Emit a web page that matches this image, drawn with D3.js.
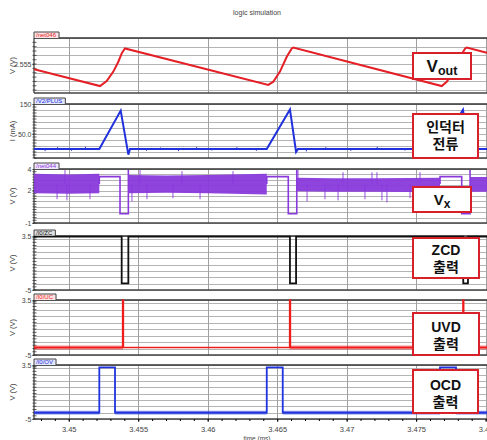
<!DOCTYPE html>
<html>
<head>
<meta charset="utf-8">
<script src="https://cdn.jsdelivr.net/npm/d3@7"></script>
<style>
body { margin: 0; background: #fff; }
svg { display: block; font-family: "Liberation Sans", "DejaVu Sans", sans-serif; }
.box text { font-family: "Liberation Sans", "Noto Sans CJK KR", sans-serif; font-weight: bold; fill: #111; }
</style>
</head>
<body>
<svg id="chart" width="487" height="440"></svg>
<script>
// time axis (ms)
var xDomain = [3.4475, 3.4801];
var xTicks = [3.45, 3.455, 3.46, 3.465, 3.47, 3.475, 3.48];

// Vout (V)
var voutT = [3.4475, 3.45225, 3.45273, 3.45321, 3.45357, 3.45381, 3.45400, 3.45405,
             3.46436, 3.46472, 3.46520, 3.46569, 3.46605, 3.46616,
             3.47684, 3.47720, 3.47768, 3.47817, 3.47853, 3.47864, 3.4801];
var voutV = [2.5532, 2.5474, 2.5491, 2.5524, 2.5558, 2.5587, 2.5601, 2.5604,
             2.5478, 2.5489, 2.5524, 2.5575, 2.5604, 2.5607,
             2.5474, 2.5489, 2.5524, 2.5575, 2.5604, 2.5607, 2.5589];

// inductor current (mA)
var curT = [3.4475, 3.4522, 3.45374, 3.45429, 3.45441, 3.46425, 3.46592, 3.46636, 3.4665,
            3.47672, 3.47837, 3.4788, 3.47895, 3.4801];
var curV = [0, 0, 128, -19, 0, 0, 132, -10, 0, 0, 131, -10, 0, 0];
var curTickT = [3.4483, 3.4492, 3.4502, 3.4512, 3.4556, 3.4566, 3.4579, 3.4592, 3.4603,
                3.4621, 3.4635, 3.4671, 3.4685, 3.4703, 3.4722, 3.4742, 3.4760];
var curTickV = [-7, 6, -6, 7, -6, 5, -7, 6, -5, 6, -6, -8, 6, -6, 7, -5, 6];

// Vx (V): noise band envelope, null separates segments
var vxBandT  = [3.4475, 3.4500, 3.4522, null, 3.45429, 3.4570, 3.4600, 3.46425, null,
                3.46641, 3.4690, 3.4720, 3.47672, null, 3.47888, 3.4801];
var vxBandHi = [3.55, 3.5, 3.55, null, 3.45, 3.4, 3.45, 3.55, null,
                3.2, 3.15, 3.15, 3.2, null, 3.25, 3.25];
var vxBandLo = [1.75, 1.7, 1.75, null, 1.75, 1.8, 1.75, 1.65, null,
                1.95, 1.9, 1.9, 1.85, null, 1.9, 1.9];
var vxSpikeT = [3.44916, 3.44973, 3.44987, 3.45153, 3.45455, 3.45513, 3.45563, 3.45750, 3.45815,
                3.45945, 3.46182, 3.46650, 3.46715, 3.46844, 3.46938, 3.46974, 3.47132,
                3.47182, 3.47218, 3.47254, 3.47290, 3.47456, 3.47528, 3.47600];
var vxSpikeV = [1.2, 3.9, 1.1, 1.2, 1.0, 3.9, 1.2, 1.3, 3.8,
                1.2, 3.8, 3.9, 1.0, 1.2, 1.1, 3.7, 1.2,
                3.7, 3.7, 1.1, 0.9, 1.3, 3.7, 1.2];
var vxFlatStart = [3.4522, 3.46425, 3.47672];
var vxDropStart = [3.45369, 3.4658, 3.47828];
var vxDropEnd   = [3.45429, 3.46641, 3.47888];
var vxFlatLevel = 3.29, vxLowLevel = -0.15, vxRiseTop = 3.9;

// ZCD output (V)
var zcdT = [3.4475, 3.45381, 3.45429, 3.46592, 3.46636, 3.47839, 3.47873, 3.4801];
var zcdV = [3.39, -3.95, 3.39, -3.95, 3.39, -3.95, 3.39, 3.39];

// UVD output (V)
var uvdT = [3.4475, 3.45388, 3.45393, 3.46590, 3.46595, 3.47837, 3.47842, 3.4801];
var uvdV = [-3.84, 3.5, -3.84, 3.5, -3.84, 3.5, -3.84, -3.84];
var uvdNoiseStart = [3.4475, 3.4659];
var uvdNoiseEnd   = [3.4539, 3.4801];

// OCD output (V)
var ocdT = [3.4475, 3.4522, 3.45333, 3.46425, 3.4654, 3.47672, 3.47787, 3.4801];
var ocdV = [-4, 3.14, -4, 3.14, -4, 3.14, -4, -4];
var ocdNoiseStart = [3.4475, 3.45333, 3.4654, 3.47787];
var ocdNoiseEnd   = [3.4522, 3.46425, 3.47672, 3.4801];

var svg = d3.select("#chart");
var left = 34, right = 487;

var x = d3.scaleLinear().domain(xDomain).range([left, right]);

var panels = [
    {tab: "/net046", color: "#e41f26", top: 38, bottom: 93, domain: [2.545, 2.564],
     grid: d3.range(2.546, 2.5645, 0.003), labels: [2.555], labelText: ["2.555"], unit: "V (V)"},
    {tab: "/V2/PLUS", color: "#2030dc", top: 104, bottom: 158, domain: [-30, 150],
     grid: d3.range(-30, 151, 20), labels: [150, 50], labelText: ["150", "50.0"], unit: "I (mA)"},
    {tab: "/net044", color: "#8a3adc", top: 169, bottom: 223, domain: [-1, 4],
     grid: d3.range(-1, 4.01, 0.5), labels: [4, 2, -1], labelText: ["4", "2", "-1"], unit: "V (V)"},
    {tab: "/I0/ZC", color: "#111111", top: 236, bottom: 290, domain: [-5, 3.5],
     grid: d3.range(-5, 3.6, 1).concat([3.5]), labels: [3.5, -5], labelText: ["3.5", "-5"], unit: "V (V)"},
    {tab: "/I0/UC", color: "#f01c1c", top: 300, bottom: 355, domain: [-5, 3.5],
     grid: d3.range(-5, 3.6, 1).concat([3.5]), labels: [3.5, -5], labelText: ["3.5", "-5"], unit: "V (V)"},
    {tab: "/I0/OV", color: "#1f33e0", top: 365, bottom: 419, domain: [-5, 3.5],
     grid: d3.range(-5, 3.6, 1).concat([3.5]), labels: [3.5, -5], labelText: ["3.5", "-5"], unit: "V (V)"}
];

panels.forEach(function(p) {
    p.y = d3.scaleLinear().domain(p.domain).range([p.bottom, p.top]);
});

function zip(ts, vs) {
    return ts.map(function(t, i) { return {t: t, v: vs[i]}; });
}

// title
svg.append("text").attr("x", 257).attr("y", 15).attr("text-anchor", "middle")
    .attr("font-size", 7).attr("fill", "#444").text("logic simulation");

panels.forEach(function(p, i) {
    var g = svg.append("g").attr("class", "panel");
    var y = p.y;

    g.append("clipPath").attr("id", "clip" + i).append("rect")
        .attr("x", left).attr("y", p.top - 1).attr("width", right - left).attr("height", p.bottom - p.top + 2);

    // horizontal grid
    g.append("g").selectAll("line").data(p.grid).enter().append("line")
        .attr("x1", left).attr("x2", right)
        .attr("y1", function(d) { return Math.round(y(d)) + 0.5; })
        .attr("y2", function(d) { return Math.round(y(d)) + 0.5; })
        .attr("stroke", "#b4b4b4").attr("stroke-width", 1);

    // vertical grid
    g.append("g").selectAll("line").data(xTicks).enter().append("line")
        .attr("x1", function(d) { return Math.round(x(d)) + 0.5; })
        .attr("x2", function(d) { return Math.round(x(d)) + 0.5; })
        .attr("y1", p.top).attr("y2", p.bottom)
        .attr("stroke", "#a0a0a0").attr("stroke-width", 1);

    // frame
    g.append("line").attr("x1", left).attr("x2", right).attr("y1", p.top).attr("y2", p.top)
        .attr("stroke", "#333").attr("stroke-width", 1.6);
    g.append("line").attr("x1", left).attr("x2", right).attr("y1", p.bottom).attr("y2", p.bottom)
        .attr("stroke", "#444").attr("stroke-width", 1.4);
    g.append("line").attr("x1", left).attr("x2", left).attr("y1", p.top).attr("y2", p.bottom)
        .attr("stroke", "#333").attr("stroke-width", 1.2);

    // minor ticks on left axis
    var minor = [];
    for (var k = 0; k < p.grid.length - 1; k++) {
        minor.push(p.grid[k], (p.grid[k] + p.grid[k + 1]) / 2);
    }
    g.append("g").selectAll("line").data(minor).enter().append("line")
        .attr("x1", left - 1.5).attr("x2", left + 2.5)
        .attr("y1", function(d) { return y(d); }).attr("y2", function(d) { return y(d); })
        .attr("stroke", "#333").attr("stroke-width", 0.8);

    // tick labels
    var ax = d3.axisLeft(y).tickValues(p.labels).tickSize(1.5).tickPadding(1)
        .tickFormat(function(d, j) { return p.labelText[j]; });
    var axg = g.append("g").attr("transform", "translate(" + left + ",0)").call(ax);
    axg.select(".domain").remove();
    axg.selectAll("text").attr("font-size", 7).attr("fill", "#444")
        .attr("font-family", "Liberation Sans, sans-serif");
    axg.selectAll("line").attr("stroke", "#333");

    // unit label
    g.append("text").attr("transform", "translate(15," + ((p.top + p.bottom) / 2) + ") rotate(-90)")
        .attr("text-anchor", "middle").attr("font-size", 7.5).attr("fill", "#444").text(p.unit);

    // tab
    var tabPath = g.append("path");
    var tabText = g.append("text").attr("x", left + 2).attr("y", p.top - 1)
        .attr("font-size", 6).attr("fill", p.color).text(p.tab);
    var tw = tabText.node().getComputedTextLength() + 5;
    tabPath
        .attr("d", "M" + left + "," + p.top + "V" + (p.top - 6) + "H" + (left + tw) + "V" + p.top)
        .attr("fill", d3.interpolateRgb("#ffffff", p.color)(0.12))
        .attr("stroke", "#444").attr("stroke-width", 1);

    p.plot = g.append("g").attr("clip-path", "url(#clip" + i + ")");
});

var line = function(y) {
    return d3.line().x(function(d) { return x(d.t); }).y(function(d) { return y(d.v); });
};

// Vout
var p0 = panels[0];
p0.plot.append("path").datum(zip(voutT, voutV))
    .attr("d", line(p0.y)).attr("fill", "none").attr("stroke", p0.color).attr("stroke-width", 2);

// current
var p1 = panels[1];
p1.plot.append("g").selectAll("line").data(zip(curTickT, curTickV)).enter().append("line")
    .attr("x1", function(d) { return x(d.t); }).attr("x2", function(d) { return x(d.t); })
    .attr("y1", p1.y(0)).attr("y2", function(d) { return p1.y(d.v); })
    .attr("stroke", p1.color).attr("stroke-width", 1);
p1.plot.append("path").datum(zip(curT, curV))
    .attr("d", line(p1.y)).attr("fill", "none").attr("stroke", p1.color).attr("stroke-width", 2);

// Vx
var p2 = panels[2];
var band = vxBandT.map(function(t, i) { return {t: t, hi: vxBandHi[i], lo: vxBandLo[i]}; });
p2.plot.append("path").datum(band)
    .attr("d", d3.area().defined(function(d) { return d.t != null; })
        .x(function(d) { return x(d.t); })
        .y0(function(d) { return p2.y(d.lo); })
        .y1(function(d) { return p2.y(d.hi); }))
    .attr("fill", p2.color).attr("fill-opacity", 0.95);
p2.plot.append("g").selectAll("line").data(zip(vxSpikeT, vxSpikeV)).enter().append("line")
    .attr("x1", function(d) { return x(d.t); }).attr("x2", function(d) { return x(d.t); })
    .attr("y1", p2.y(2.6)).attr("y2", function(d) { return p2.y(d.v); })
    .attr("stroke", p2.color).attr("stroke-width", 0.9);
vxFlatStart.forEach(function(t0, i) {
    var pts = [
        {t: t0, v: 2.6}, {t: t0, v: vxFlatLevel},
        {t: vxDropStart[i], v: vxFlatLevel}, {t: vxDropStart[i], v: vxLowLevel},
        {t: vxDropEnd[i], v: vxLowLevel}, {t: vxDropEnd[i], v: vxRiseTop}
    ];
    p2.plot.append("path").datum(pts).attr("d", line(p2.y))
        .attr("fill", "none").attr("stroke", p2.color).attr("stroke-width", 1.6);
});

// ZCD
var p3 = panels[3];
p3.plot.append("path").datum(zip(zcdT, zcdV))
    .attr("d", line(p3.y).curve(d3.curveStepAfter))
    .attr("fill", "none").attr("stroke", p3.color).attr("stroke-width", 1.8);

// UVD
var p4 = panels[4];
p4.plot.append("g").selectAll("rect").data(uvdNoiseStart).enter().append("rect")
    .attr("x", function(d) { return x(d); })
    .attr("width", function(d, i) { return x(uvdNoiseEnd[i]) - x(d); })
    .attr("y", p4.y(-3.84 + 0.3)).attr("height", p4.y(-3.84 - 0.3) - p4.y(-3.84 + 0.3))
    .attr("fill", p4.color).attr("fill-opacity", 0.55);
p4.plot.append("path").datum(zip(uvdT, uvdV))
    .attr("d", line(p4.y).curve(d3.curveStepAfter))
    .attr("fill", "none").attr("stroke", p4.color).attr("stroke-width", 1.6);

// OCD
var p5 = panels[5];
p5.plot.append("g").selectAll("rect").data(ocdNoiseStart).enter().append("rect")
    .attr("x", function(d) { return x(d); })
    .attr("width", function(d, i) { return x(ocdNoiseEnd[i]) - x(d); })
    .attr("y", p5.y(-4 + 0.3)).attr("height", p5.y(-4 - 0.3) - p5.y(-4 + 0.3))
    .attr("fill", p5.color).attr("fill-opacity", 0.5);
p5.plot.append("path").datum(zip(ocdT, ocdV))
    .attr("d", line(p5.y).curve(d3.curveStepAfter))
    .attr("fill", "none").attr("stroke", p5.color).attr("stroke-width", 1.8);

// bottom time axis
var xb = svg.append("g").attr("transform", "translate(0," + p5.bottom + ")")
    .call(d3.axisBottom(x).tickValues(xTicks).tickSize(3)
        .tickFormat(function(d) { return String(+d.toFixed(3)); }));
xb.select(".domain").remove();
xb.selectAll("text").attr("font-size", 7.5).attr("fill", "#444").attr("dy", "0.9em")
    .attr("font-family", "Liberation Sans, sans-serif");
xb.selectAll("line").attr("stroke", "#333");
svg.append("g").attr("transform", "translate(0," + p5.bottom + ")")
    .call(d3.axisBottom(x).tickValues(d3.range(3.448, 3.4801, 0.001)).tickSize(2).tickFormat(""))
    .select(".domain").remove();
svg.append("text").attr("x", 257).attr("y", 441).attr("text-anchor", "middle")
    .attr("font-size", 6.5).attr("fill", "#444").text("time (ms)");

// annotation boxes
var boxes = [
    {x: 413, y: 53, w: 58, h: 26, main: "V", sub: "out", size: 17, subSize: 12.5, base: 72},
    {x: 413, y: 114, w: 65, h: 44, lines: ["인덕터", "전류"], size: 14, base: 132},
    {x: 413, y: 187, w: 58, h: 25, main: "V", sub: "x", size: 15, subSize: 12, base: 205},
    {x: 413, y: 238, w: 66, h: 40, lines: ["ZCD", "출력"], size: 14, base: 255},
    {x: 413, y: 313, w: 66, h: 42, lines: ["UVD", "출력"], size: 14, base: 332},
    {x: 413, y: 370, w: 65, h: 43, lines: ["OCD", "출력"], size: 14, base: 390}
];
boxes.forEach(function(b) {
    var g = svg.append("g").attr("class", "box");
    g.append("rect").attr("x", b.x).attr("y", b.y).attr("width", b.w).attr("height", b.h)
        .attr("fill", "#fff").attr("stroke", "#d8202a").attr("stroke-width", 2);
    var cx = b.x + b.w / 2;
    var t = g.append("text").attr("x", cx).attr("y", b.base).attr("text-anchor", "middle")
        .attr("font-size", b.size);
    if (b.main) {
        t.append("tspan").text(b.main);
        t.append("tspan").attr("font-size", b.subSize).attr("dy", 3).text(b.sub);
    } else {
        b.lines.forEach(function(s, j) {
            t.append("tspan").attr("x", cx).attr("dy", j === 0 ? 0 : 17).text(s);
        });
    }
});
</script>
</body>
</html>
